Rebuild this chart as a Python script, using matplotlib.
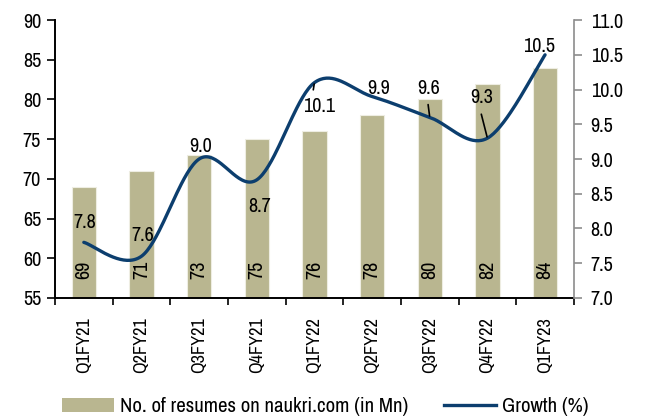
import numpy as np
import matplotlib
matplotlib.use("Agg")
import matplotlib.pyplot as plt
from matplotlib.patches import Patch
from matplotlib.lines import Line2D

quarters = ["Q1FY21", "Q2FY21", "Q3FY21", "Q4FY21", "Q1FY22",
            "Q2FY22", "Q3FY22", "Q4FY22", "Q1FY23"]
resumes = [69, 71, 73, 75, 76, 78, 80, 82, 84]
growth = [7.8, 7.6, 9.0, 8.7, 10.1, 9.9, 9.6, 9.3, 10.5]

plt.rcParams["font.family"] = ["Archivo Narrow", "DejaVu Sans"]
plt.rcParams["font.size"] = 14.5

BAR = "#B9B690"
LINE = "#0C3E6E"


def smooth(xs, ys, n=40):
    # excel-style smoothed line (catmull-rom through the points)
    p = np.column_stack([xs, ys]).astype(float)
    p = np.vstack([p[0], p, p[-1]])
    out = []
    t = np.linspace(0, 1, n)[:, None]
    for i in range(1, len(p) - 2):
        p0, p1, p2, p3 = p[i - 1], p[i], p[i + 1], p[i + 2]
        c1 = p1 + (p2 - p0) / 6
        c2 = p2 - (p3 - p1) / 6
        seg = ((1 - t) ** 3) * p1 + 3 * ((1 - t) ** 2) * t * c1 + 3 * (1 - t) * t ** 2 * c2 + t ** 3 * p2
        out.append(seg)
    out = np.vstack(out)
    return out[:, 0], out[:, 1]


fig = plt.figure(figsize=(6.47, 4.19), dpi=100)
ax = fig.add_axes([0.085, 0.289, 0.802, 0.663])
x = np.arange(len(quarters))
ax.bar(x, resumes, width=0.42, color=BAR, edgecolor="#EEEDE2", linewidth=0.8, zorder=2)
ax.set_ylim(55, 90)
ax.set_yticks(range(55, 91, 5))
ax.set_xlim(-0.5, len(quarters) - 0.5)
ax.set_xticks(x)
ax.set_xticklabels(quarters, rotation=90, fontsize=13.2)
ax.set_xticks(np.arange(-0.5, len(quarters)), minor=True)
ax.tick_params(axis="x", which="major", length=0, pad=14)
ax.tick_params(axis="x", which="minor", length=5, width=1.2, direction="out")
ax.tick_params(axis="y", length=6, width=1.2, pad=4)
for s in ["top", "right"]:
    ax.spines[s].set_visible(False)
ax.spines["left"].set_linewidth(1.4)
ax.spines["bottom"].set_linewidth(1.4)

for xi, v in zip(x, resumes):
    ax.text(xi, 58.5, str(v), rotation=90, ha="center", va="center", zorder=3)

ax2 = ax.twinx()
ax2.set_ylim(7.0, 11.0)
ax2.set_yticks(np.arange(7.0, 11.01, 0.5))
ax2.set_yticklabels([f"{v:.1f}" for v in np.arange(7.0, 11.01, 0.5)])
for s in ["top", "left", "bottom"]:
    ax2.spines[s].set_visible(False)
ax2.spines["right"].set_color("#8C8C8C")
ax2.spines["right"].set_linewidth(1.2)
ax2.tick_params(axis="y", length=6, width=1.2, color="#8C8C8C", pad=6)

sx, sy = smooth(x, growth)
ax2.plot(sx, sy, color=LINE, lw=2.4, solid_capstyle="round", zorder=4)

# label offsets in points; leader lines start at the text edge (relpos)
offsets = [(1, 14), (1, 15), (1, 9), (2, -19), (3, -17), (5, 6), (-1, 21), (-4, 29), (-4, 6)]
leaders = [None, None, None, None, (0.3, 1), None, (0.45, 0), (0.4, 0), None]
for xi, v, (dx, dy), rp in zip(x, growth, offsets, leaders):
    arrow = None
    if rp is not None:
        arrow = dict(arrowstyle="-", color="black", lw=1.2, relpos=rp, shrinkA=3, shrinkB=1)
    ax2.annotate(f"{v:.1f}", (xi, v), xytext=(dx, dy), textcoords="offset points",
                 ha="center", va="center", arrowprops=arrow, zorder=5)

handles = [Patch(facecolor=BAR, edgecolor="none"), Line2D([], [], color=LINE, lw=2.4)]
fig.legend(handles, ["No. of resumes on naukri.com (in Mn)", "Growth (%)"],
           loc="center", bbox_to_anchor=(0.503, 0.029), ncol=2, frameon=False, fontsize=15,
           handlelength=2.5, handleheight=0.7, columnspacing=1.7, handletextpad=0.3)

fig.savefig("out.png", dpi=100)
